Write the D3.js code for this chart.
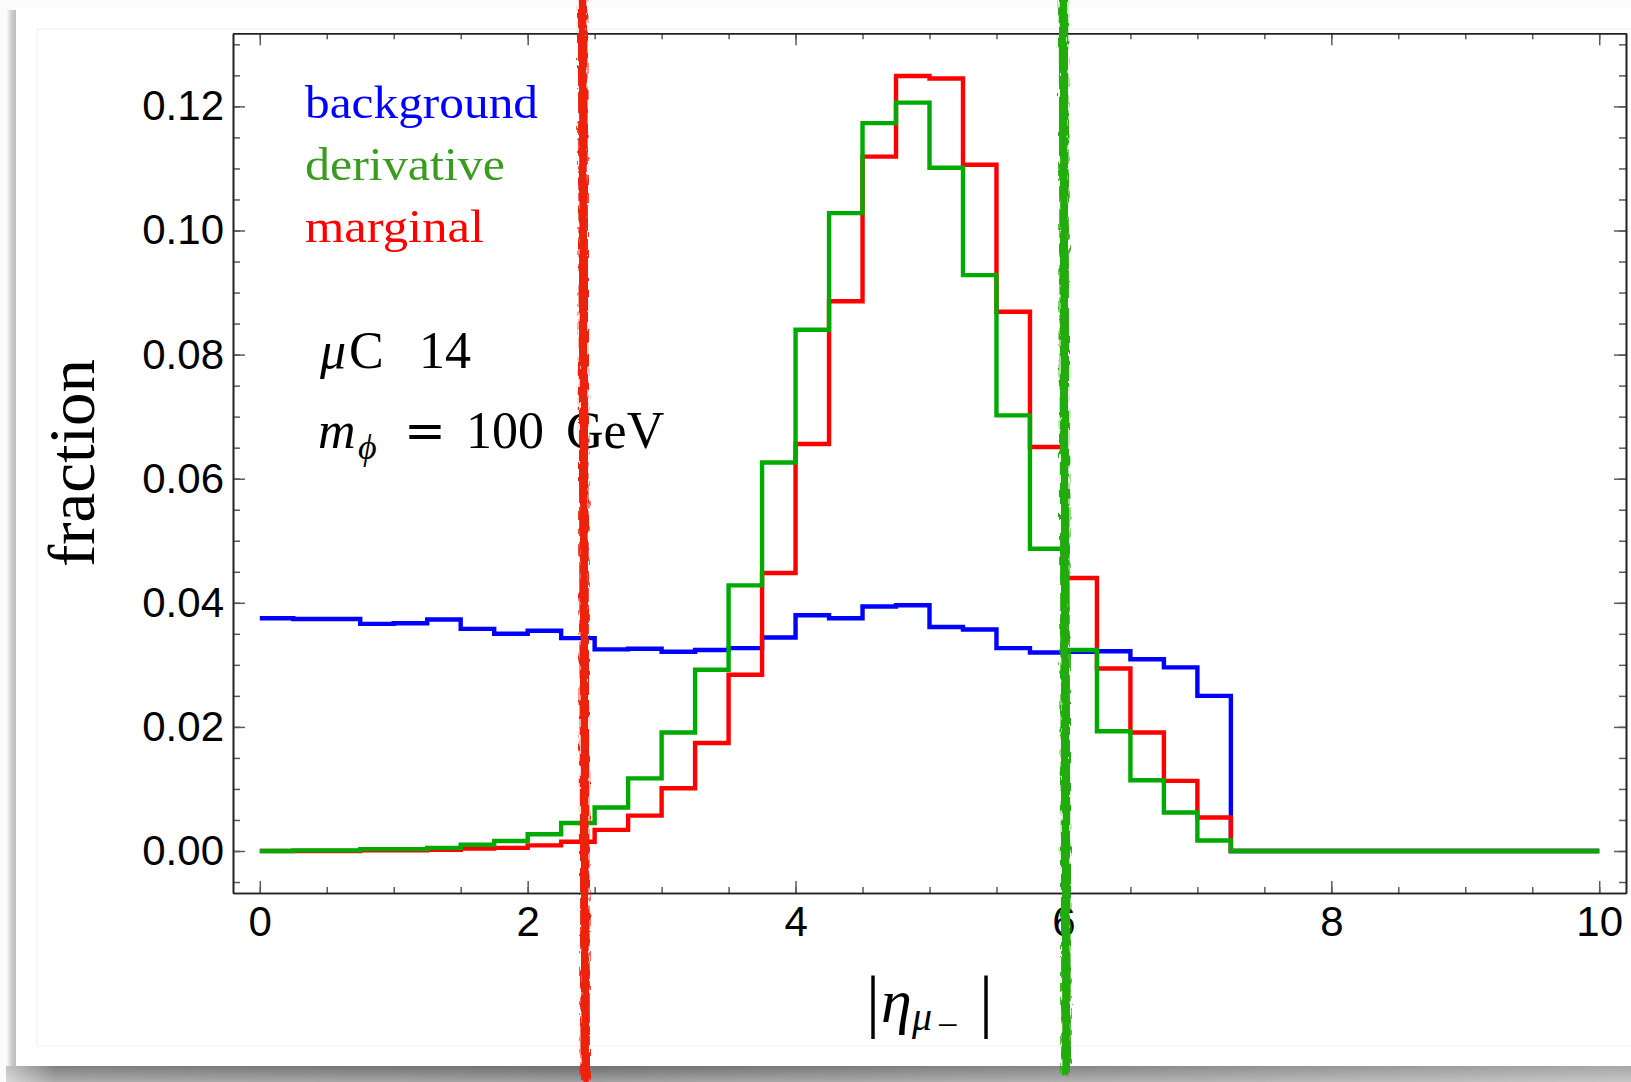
<!DOCTYPE html>
<html>
<head>
<meta charset="utf-8">
<script src="https://cdn.jsdelivr.net/npm/d3@7"></script>
<style>
  html, body { margin: 0; padding: 0; background: #ffffff; }
  svg { display: block; }
</style>
</head>
<body>
<svg id="chart" width="1631" height="1082"></svg>
<script>
// ---------------- data ----------------
const binWidth = 0.25;
const background = [0.0375,0.0374,0.0374,0.0366,0.0367,0.0373,0.0358,0.0350,0.0355,0.0343,
                    0.0325,0.0326,0.0321,0.0324,0.0327,0.0344,0.0380,0.0375,0.0394,0.0396,
                    0.0361,0.0357,0.0327,0.0320,0.0321,0.0322,0.0309,0.0296,0.0250,0,
                    0,0,0,0,0,0,0,0,0,0];
const derivative = [0.0000,0.0001,0.0001,0.0003,0.0003,0.0005,0.0010,0.0016,0.0027,0.0045,
                    0.0070,0.0117,0.0191,0.0292,0.0428,0.0626,0.0840,0.1028,0.1173,0.1206,
                    0.1101,0.0928,0.0702,0.0487,0.0324,0.0193,0.0114,0.0062,0.0017,0,
                    0,0,0,0,0,0,0,0,0,0];
const marginal   = [0.0000,0.0000,0.0000,0.0001,0.0001,0.0002,0.0004,0.0005,0.0009,0.0015,
                    0.0034,0.0057,0.0101,0.0174,0.0284,0.0448,0.0656,0.0886,0.1119,0.1249,
                    0.1245,0.1106,0.0869,0.0651,0.0440,0.0294,0.0191,0.0113,0.0054,0,
                    0,0,0,0,0,0,0,0,0,0];
const seriesNames  = ["background", "marginal", "derivative"];
const seriesColors = {background: "#0000ff", marginal: "#ff0000", derivative: "#00aa00"};
const legendColors = {background: "#0000ff", derivative: "#3a9c1e", marginal: "#ff0000"};
const legendOrder  = ["background", "derivative", "marginal"];
const xMajorTicks = [0, 2, 4, 6, 8, 10];
const xMinorTicks = [0,0.5,1,1.5,2,2.5,3,3.5,4,4.5,5,5.5,6,6.5,7,7.5,8,8.5,9,9.5,10];
const yMajorTicks = [0.00, 0.02, 0.04, 0.06, 0.08, 0.10, 0.12];
const yMinorTicks = [-0.005,0,0.005,0.01,0.015,0.02,0.025,0.03,0.035,0.04,0.045,0.05,0.055,0.06,
                     0.065,0.07,0.075,0.08,0.085,0.09,0.095,0.1,0.105,0.11,0.115,0.12,0.125,0.13];
// hand-drawn cut lines (top x, bottom x in data units)
const cuts = [
  {x0: 2.41, x1: 2.43, color: "#ec2410", bottomY: 1078},
  {x0: 6.00, x1: 6.02, color: "#22ab08", bottomY: 1071}
];

const seriesData = {background, derivative, marginal};

// ---------------- layout ----------------
const W = 1631, H = 1082;
const plot = {left: 233, right: 1626, top: 33.3, bottom: 893};

const svg = d3.select("#chart");

const defs = svg.append("defs");
const gx = defs.append("linearGradient").attr("id", "shadowBottomH").attr("x1", "0").attr("x2", "1").attr("y1", "0").attr("y2", "0");
gx.append("stop").attr("offset", "0").attr("stop-color", "#c4c4c4");
gx.append("stop").attr("offset", "0.03").attr("stop-color", "#808080");
gx.append("stop").attr("offset", "0.35").attr("stop-color", "#6f6f6f");
gx.append("stop").attr("offset", "0.7").attr("stop-color", "#8a8a8a");
gx.append("stop").attr("offset", "1").attr("stop-color", "#a8a8a8");
const gy = defs.append("linearGradient").attr("id", "shadowBottomV").attr("x1", "0").attr("x2", "0").attr("y1", "0").attr("y2", "1");
gy.append("stop").attr("offset", "0").attr("stop-color", "#ffffff").attr("stop-opacity", 0);
gy.append("stop").attr("offset", "1").attr("stop-color", "#ffffff").attr("stop-opacity", 0.35);
const gl = defs.append("linearGradient").attr("id", "shadowLeft").attr("x1", "0").attr("x2", "1").attr("y1", "0").attr("y2", "0");
gl.append("stop").attr("offset", "0").attr("stop-color", "#ffffff");
gl.append("stop").attr("offset", "0.6").attr("stop-color", "#cacaca");
gl.append("stop").attr("offset", "1").attr("stop-color", "#bdbdbd");

const rough = defs.append("filter").attr("id", "rough")
  .attr("filterUnits", "userSpaceOnUse").attr("x", 0).attr("y", 0).attr("width", W).attr("height", H);
rough.append("feTurbulence").attr("type", "fractalNoise").attr("baseFrequency", "0.6 0.09")
  .attr("numOctaves", 2).attr("seed", 7).attr("result", "noise");
rough.append("feDisplacementMap").attr("in", "SourceGraphic").attr("in2", "noise")
  .attr("scale", 6).attr("xChannelSelector", "R").attr("yChannelSelector", "G");

// ---- page decoration (screenshot card with shadow) ----
svg.append("rect").attr("x", 0).attr("y", 0).attr("width", W).attr("height", H).attr("fill", "#fbfbfb");
svg.append("rect").attr("x", 6).attr("y", 10).attr("width", 10).attr("height", 1058).attr("fill", "url(#shadowLeft)");
svg.append("rect").attr("x", 6).attr("y", 1066).attr("width", W - 6).attr("height", 16).attr("fill", "url(#shadowBottomH)");
svg.append("rect").attr("x", 6).attr("y", 1066).attr("width", W - 6).attr("height", 16).attr("fill", "url(#shadowBottomV)");
svg.append("rect").attr("x", 16).attr("y", 7).attr("width", W - 16).attr("height", 1059).attr("fill", "#ffffff");
svg.append("rect").attr("x", 37).attr("y", 29).attr("width", W).attr("height", 1017)
  .attr("fill", "none").attr("stroke", "#eeeeee").attr("stroke-width", 1);

// ---------------- scales ----------------
const x = d3.scaleLinear().domain([-0.2, 10.2]).range([plot.left, plot.right]);
const y = d3.scaleLinear().domain([-0.00677, 0.13178]).range([plot.bottom, plot.top]);

// ---------------- axes ----------------
const tickColor = "#5a5a5a";
function styleAxis(g) {
  g.select(".domain").attr("stroke", "#222").attr("stroke-width", 1.6);
  g.selectAll(".tick line").attr("stroke", tickColor).attr("stroke-width", 1.5);
}
const sans = "'Liberation Sans', Arial, Helvetica, sans-serif";
const serif = "'Liberation Serif', 'Times New Roman', serif";

// bottom
svg.append("g").attr("transform", `translate(0,${plot.bottom})`)
  .call(d3.axisBottom(x).tickValues(xMinorTicks).tickSize(-6).tickSizeOuter(0).tickFormat(""))
  .call(styleAxis);
const xb = svg.append("g").attr("transform", `translate(0,${plot.bottom})`)
  .call(d3.axisBottom(x).tickValues(xMajorTicks).tickSize(-12).tickSizeOuter(0).tickPadding(13).tickFormat(d3.format("d")))
  .call(styleAxis);
xb.selectAll("text").attr("font-family", sans).attr("font-size", 42).attr("fill", "#000");
// top
svg.append("g").attr("transform", `translate(0,${plot.top})`)
  .call(d3.axisTop(x).tickValues(xMinorTicks).tickSize(-6).tickSizeOuter(0).tickFormat(""))
  .call(styleAxis);
svg.append("g").attr("transform", `translate(0,${plot.top})`)
  .call(d3.axisTop(x).tickValues(xMajorTicks).tickSize(-12).tickSizeOuter(0).tickFormat(""))
  .call(styleAxis);
// left
svg.append("g").attr("transform", `translate(${plot.left},0)`)
  .call(d3.axisLeft(y).tickValues(yMinorTicks).tickSize(-7).tickSizeOuter(0).tickFormat(""))
  .call(styleAxis);
const yl = svg.append("g").attr("transform", `translate(${plot.left},0)`)
  .call(d3.axisLeft(y).tickValues(yMajorTicks).tickSize(-12).tickSizeOuter(0).tickPadding(9).tickFormat(d3.format(".2f")))
  .call(styleAxis);
yl.selectAll("text").attr("font-family", sans).attr("font-size", 42).attr("fill", "#000");
// right
svg.append("g").attr("transform", `translate(${plot.right},0)`)
  .call(d3.axisRight(y).tickValues(yMinorTicks).tickSize(-7).tickSizeOuter(0).tickFormat(""))
  .call(styleAxis);
svg.append("g").attr("transform", `translate(${plot.right},0)`)
  .call(d3.axisRight(y).tickValues(yMajorTicks).tickSize(-12).tickSizeOuter(0).tickFormat(""))
  .call(styleAxis);
svg.selectAll(".domain").raise();

// ---------------- histograms ----------------
const line = d3.line().x(d => x(d[0])).y(d => y(d[1])).curve(d3.curveStepAfter);
function stepPoints(vals) {
  const pts = vals.map((v, i) => [i * binWidth, v]);
  pts.push([vals.length * binWidth, vals[vals.length - 1]]);
  return pts;
}
svg.append("g").selectAll("path").data(seriesNames).join("path")
  .attr("d", n => line(stepPoints(seriesData[n])))
  .attr("fill", "none")
  .attr("stroke", n => seriesColors[n])
  .attr("stroke-width", 4.4)
  .attr("stroke-linejoin", "miter");

// ---------------- legend ----------------
const legendBaselines = [117.5, 180, 242];
const legendLengths = [233, 200, 179];
svg.append("g").selectAll("text").data(legendOrder).join("text")
  .attr("x", 305)
  .attr("y", (d, i) => legendBaselines[i])
  .attr("font-family", serif).attr("font-size", 47)
  .attr("textLength", (d, i) => legendLengths[i]).attr("lengthAdjust", "spacingAndGlyphs")
  .attr("fill", d => legendColors[d])
  .text(d => d);

// ---------------- annotations ----------------
const t1 = svg.append("text").attr("font-family", serif).attr("font-size", 52).attr("fill", "#000").attr("y", 368);
t1.append("tspan").attr("x", 320).attr("font-style", "italic").text("μ");
t1.append("tspan").attr("x", 349).text("C");
t1.append("tspan").attr("x", 419).text("14");

const t2 = svg.append("text").attr("font-family", serif).attr("font-size", 52).attr("fill", "#000").attr("y", 448);
t2.append("tspan").attr("x", 318).attr("font-style", "italic").text("m");
t2.append("tspan").attr("x", 358).attr("dy", 11).attr("font-size", 36).attr("font-style", "italic").text("ϕ");
t2.append("tspan").attr("x", 404).attr("dy", -11).attr("font-family", "'DejaVu Serif', serif").attr("font-size", 50).text("=");
t2.append("tspan").attr("x", 466).text("100");
t2.append("tspan").attr("x", 566).text("GeV");

// y label
svg.append("text")
  .attr("transform", "translate(94,463) rotate(-90)")
  .attr("text-anchor", "middle")
  .attr("font-family", serif).attr("font-size", 66)
  .attr("textLength", 208).attr("lengthAdjust", "spacingAndGlyphs")
  .attr("fill", "#000")
  .text("fraction");

// x label |η_{μ−}|
const xl = svg.append("text").attr("font-family", serif).attr("fill", "#000");
xl.append("tspan").attr("x", 873).attr("y", 1024).attr("font-size", 70).attr("text-anchor", "middle").text("|");
xl.append("tspan").attr("x", 881).attr("y", 1022).attr("font-size", 62).attr("font-style", "italic").text("η");
xl.append("tspan").attr("x", 912).attr("y", 1030).attr("font-size", 40).attr("font-style", "italic").text("μ");
xl.append("tspan").attr("x", 937).attr("y", 1038).attr("font-size", 38).text("−");
xl.append("tspan").attr("x", 986).attr("y", 1024).attr("font-size", 70).attr("text-anchor", "middle").text("|");

// ---------------- hand-drawn cut lines ----------------
svg.append("g").attr("filter", "url(#rough)")
  .selectAll("line").data(cuts).join("line")
  .attr("x1", d => x(d.x0)).attr("y1", 0)
  .attr("x2", d => x(d.x1)).attr("y2", d => d.bottomY)
  .attr("stroke", d => d.color)
  .attr("stroke-width", 9.5)
  .attr("stroke-linecap", "round");
</script>
</body>
</html>
